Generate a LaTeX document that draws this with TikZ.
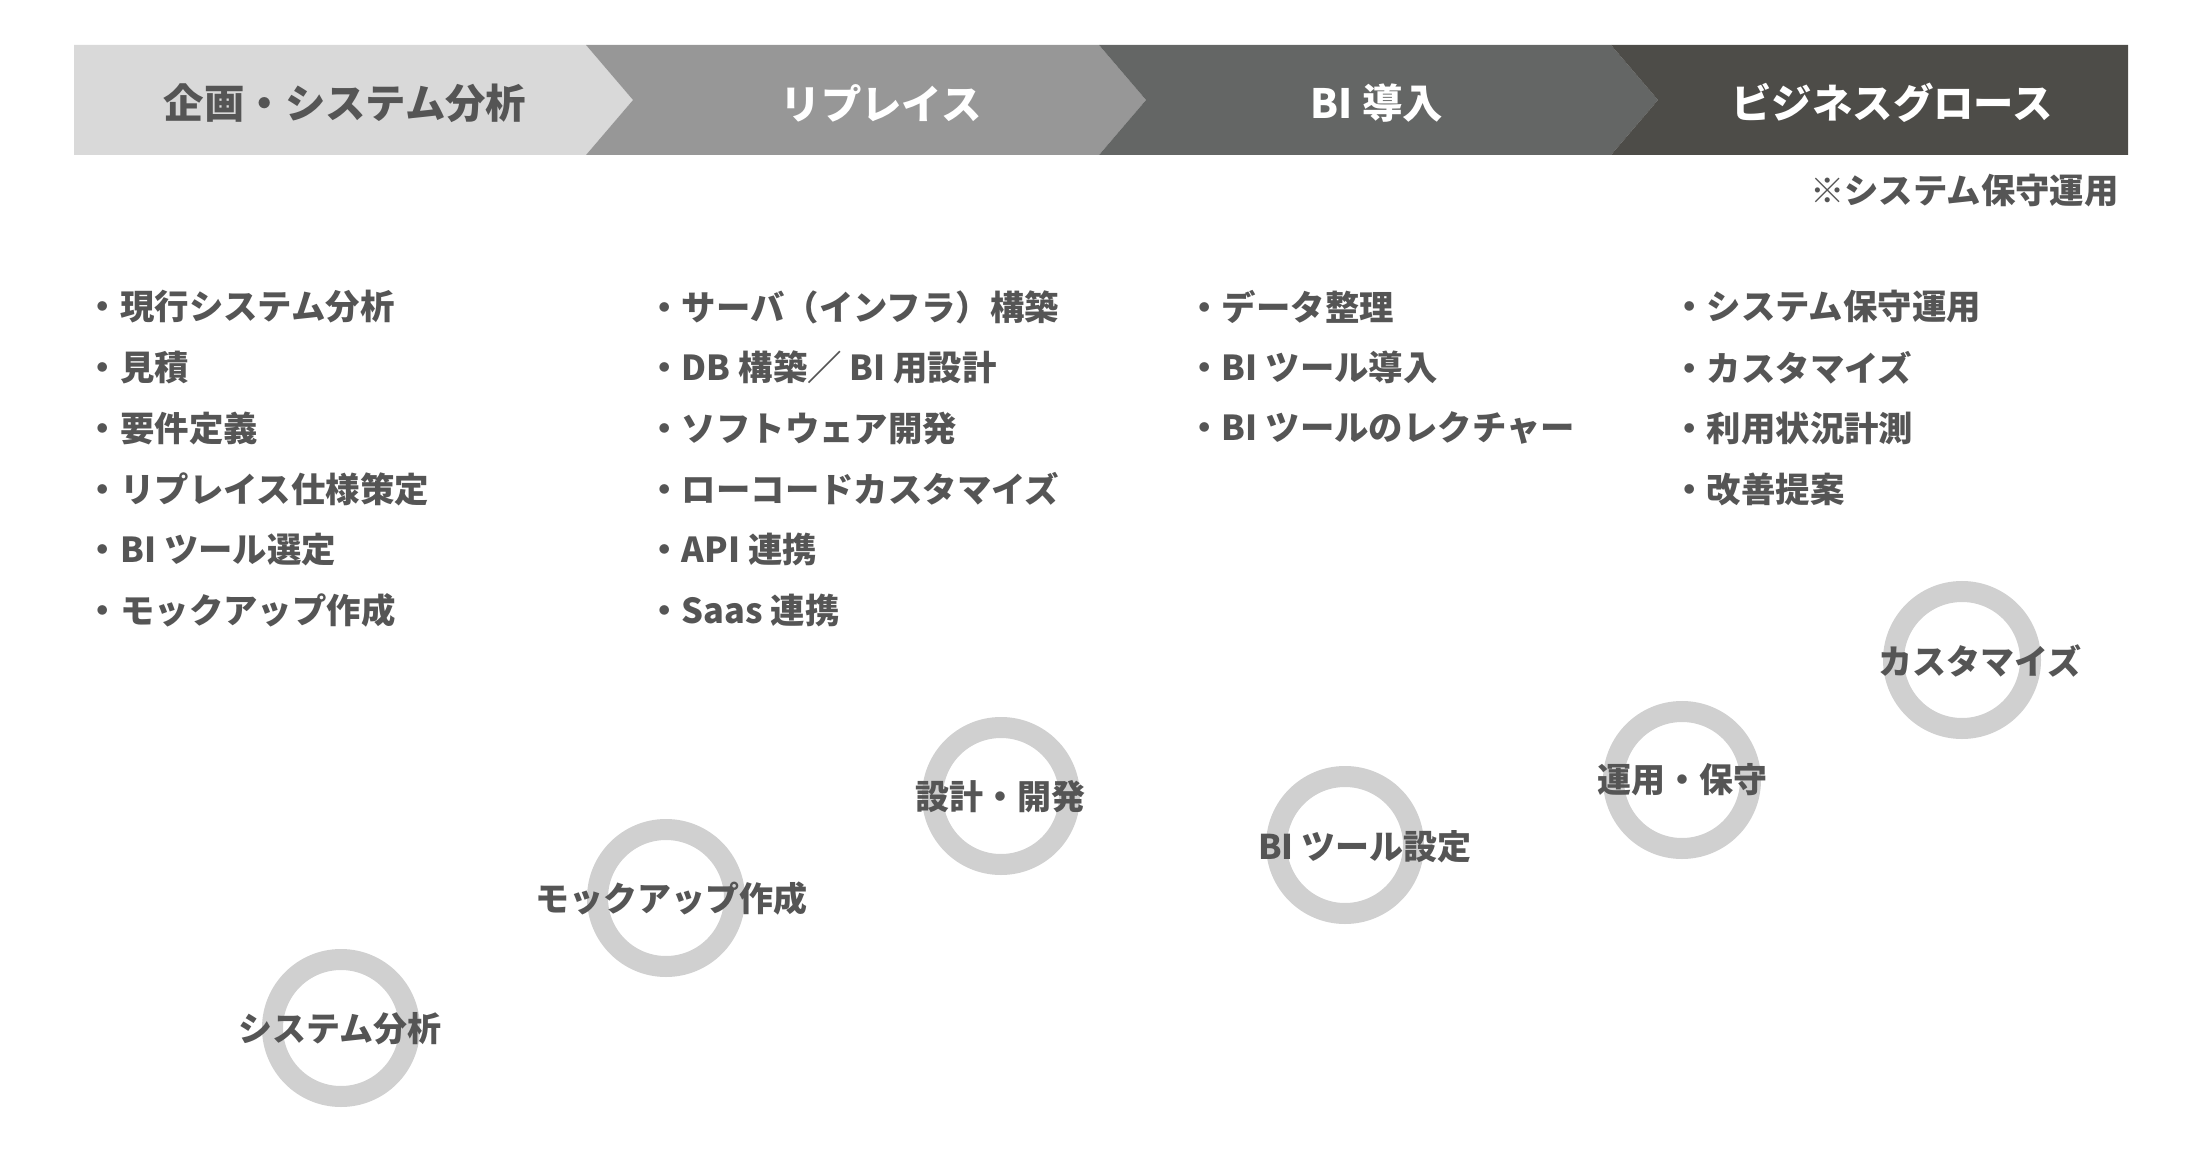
\documentclass[tikz,border=0pt]{standalone}
\usepackage{fontspec}
\setmainfont{Noto Sans CJK JP}
\definecolor{barA}{HTML}{D9D9D9}
\definecolor{barB}{HTML}{979797}
\definecolor{barC}{HTML}{646665}
\definecolor{barD}{HTML}{4D4C48}
\definecolor{ringgray}{HTML}{D0D0D0}
\definecolor{txtgray}{HTML}{555555}
\begin{document}
\begin{tikzpicture}[x=0.5pt,y=-0.5pt,
    phase/.style = {font=\fontsize{20.2}{24}\selectfont\bfseries, inner sep=0},
    item/.style = {anchor=west, font=\fontsize{17.2}{21}\selectfont\bfseries, text=txtgray, inner sep=0},
    ring/.style = {circle, draw=ringgray, line width=10.5pt, minimum size=68.5pt, inner sep=0},
    ringlabel/.style = {font=\fontsize{17}{20}\selectfont\bfseries, text=txtgray, inner sep=0}
  ]
  \useasboundingbox (0,0) rectangle (2200,1171);

  % phase bar
  \fill[barA] (74,45) -- (586,45) -- ++(47,55) -- (586,155) -- (74,155) -- cycle;
  \foreach \a/\b/\c in {586/1099/barB, 1099/1611/barC}{
      \fill[\c] (\a,45) -- (\b,45) -- ++(47,55) -- (\b,155) -- (\a,155) -- ++(47,-55) -- cycle;
    }
  \fill[barD] (1611,45) -- (2128,45) -- (2128,155) -- (1611,155) -- ++(47,-55) -- cycle;

  \node[phase, text=txtgray] (P1) at (345,103) {企画・システム分析};
  \node[phase, text=white] (P2) at (881,103) {リプレイス};
  \node[phase, text=white] (P3) at (1377,103) {BI 導入};
  \node[phase, text=white] (P4) at (1892,103) {ビジネスグロース};
  \node[item, anchor=east] (note) at (2119,191) {※システム保守運用};

  % task lists
  \foreach \t [count=\i] in {現行システム分析, 見積, 要件定義, リプレイス仕様策定, BI ツール選定, モックアップ作成}
    \node[item] (A\i) at (85.5,{307+60.7*(\i-1)}) {・\t};
  \foreach \t [count=\i] in {サーバ（インフラ）構築, DB 構築／ BI 用設計, ソフトウェア開発, ローコードカスタマイズ, API 連携, Saas 連携}
    \node[item] (B\i) at (647,{307+60.7*(\i-1)}) {・\t};
  \foreach \t [count=\i] in {データ整理, BI ツール導入, BI ツールのレクチャー}
    \node[item] (C\i) at (1187,{307+60.7*(\i-1)}) {・\t};
  \foreach \t [count=\i] in {システム保守運用, カスタマイズ, 利用状況計測, 改善提案}
    \node[item] (D\i) at (1672,{307+60.7*(\i-1)}) {・\t};

  % milestones
  \foreach \cx/\cy/\lx/\ly/\t [count=\k] in {
      341/1028/340/1029/システム分析,
      666/898/671/899/モックアップ作成,
      1001/796/1000/797/設計・開発,
      1345/845/1365/847/BI ツール設定,
      1682/780/1682/780/運用・保守,
      1962/660/1980/661/カスタマイズ}{
      \node[ring] (R\k) at (\cx,\cy) {};
      \node[ringlabel] (L\k) at (\lx,\ly) {\t};
    }

\end{tikzpicture}
\end{document}
